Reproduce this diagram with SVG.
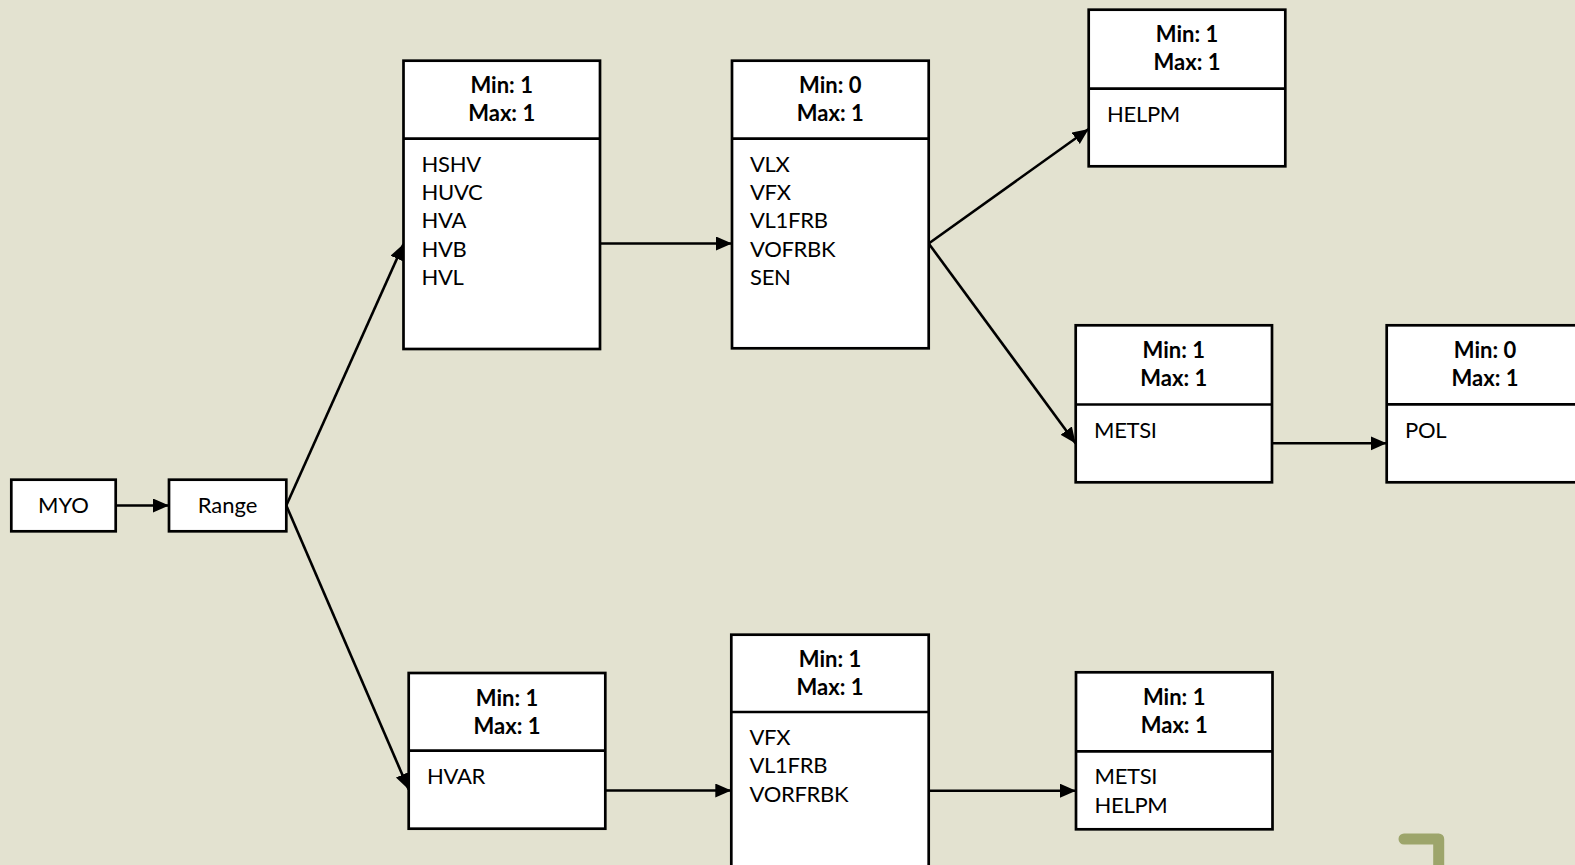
<svg xmlns="http://www.w3.org/2000/svg" width="1575" height="865" viewBox="0 0 1575 865">
<defs>
<style>
.box{fill:#ffffff;stroke:#000000;stroke-width:2.7}
.div{stroke:#000000;stroke-width:2.7}
.hd{font-family:Lato,"Noto Sans",sans-serif;font-size:22px;font-weight:bold;fill:#000000;text-anchor:middle}
.bd{font-family:Lato,"Noto Sans",sans-serif;font-size:22px;fill:#000000;letter-spacing:-0.3px}
.lb{font-family:Lato,"Noto Sans",sans-serif;font-size:22px;fill:#000000;text-anchor:middle}
.cn{fill:none;stroke:#000000;stroke-width:2.6;marker-end:url(#ah)}
</style>
<marker id="ah" markerUnits="userSpaceOnUse" markerWidth="17" markerHeight="15" refX="16" refY="7" orient="auto">
<path d="M0,0 L16,7 L0,14 z" fill="#000000"/>
</marker>
</defs>
<rect x="0" y="0" width="1575" height="865" fill="#e3e2d0"/>

<g id="connectors">
<line class="cn" x1="115.7" y1="505.5" x2="169" y2="505.5"/>
<line class="cn" x1="286.3" y1="505.5" x2="403.5" y2="244"/>
<line class="cn" x1="286.3" y1="505.5" x2="408.7" y2="789.5"/>
<line class="cn" x1="600" y1="243.5" x2="732" y2="243.5"/>
<line class="cn" x1="928.7" y1="243.5" x2="1088.7" y2="129"/>
<line class="cn" x1="928.7" y1="243.5" x2="1075.7" y2="443.5"/>
<line class="cn" x1="1272" y1="443.3" x2="1386.7" y2="443.3"/>
<line class="cn" x1="605.3" y1="790.5" x2="731.3" y2="790.5"/>
<line class="cn" x1="928.7" y1="790.7" x2="1076" y2="790.7"/>
</g>

<g id="node-myo">
<rect class="box" x="11.3" y="479.7" width="104.4" height="51.6"/>
<text class="lb" x="63.5" y="513.3">MYO</text>
</g>
<g id="node-range">
<rect class="box" x="169" y="479.7" width="117.3" height="51.6"/>
<text class="lb" x="227.6" y="513.3">Range</text>
</g>

<g id="node-a">
<rect class="box" x="403.5" y="60.7" width="196.5" height="288.3"/>
<line class="div" x1="403.5" y1="138.7" x2="600" y2="138.7"/>
<text class="hd" x="501.7" y="93.3">Min: 1</text>
<text class="hd" x="501.7" y="121.3">Max: 1</text>
<text class="bd" x="421.5" y="171.7">HSHV</text>
<text class="bd" x="421.5" y="200">HUVC</text>
<text class="bd" x="421.5" y="228.4">HVA</text>
<text class="bd" x="421.5" y="256.8">HVB</text>
<text class="bd" x="421.5" y="285.2">HVL</text>
</g>

<g id="node-b">
<rect class="box" x="732" y="60.7" width="196.7" height="287.6"/>
<line class="div" x1="732" y1="138.7" x2="928.7" y2="138.7"/>
<text class="hd" x="830.3" y="93.3">Min: 0</text>
<text class="hd" x="830.3" y="121.3">Max: 1</text>
<text class="bd" x="750" y="171.7">VLX</text>
<text class="bd" x="750" y="200">VFX</text>
<text class="bd" x="750" y="228.4">VL1FRB</text>
<text class="bd" x="750" y="256.8">VOFRBK</text>
<text class="bd" x="750" y="285.2">SEN</text>
</g>

<g id="node-c">
<rect class="box" x="1088.7" y="9.7" width="196.6" height="156.6"/>
<line class="div" x1="1088.7" y1="88.7" x2="1285.3" y2="88.7"/>
<text class="hd" x="1187" y="42.3">Min: 1</text>
<text class="hd" x="1187" y="70.3">Max: 1</text>
<text class="bd" x="1107" y="121.7">HELPM</text>
</g>

<g id="node-d">
<rect class="box" x="1075.7" y="325.3" width="196.3" height="157"/>
<line class="div" x1="1075.7" y1="404.5" x2="1272" y2="404.5"/>
<text class="hd" x="1173.8" y="357.9">Min: 1</text>
<text class="hd" x="1173.8" y="385.9">Max: 1</text>
<text class="bd" x="1094" y="437.5">METSI</text>
</g>

<g id="node-e">
<rect class="box" x="1386.7" y="325.3" width="196.6" height="157"/>
<line class="div" x1="1386.7" y1="404.3" x2="1583.3" y2="404.3"/>
<text class="hd" x="1485" y="357.9">Min: 0</text>
<text class="hd" x="1485" y="385.9">Max: 1</text>
<text class="bd" x="1405" y="437.5">POL</text>
</g>

<g id="node-f">
<rect class="box" x="408.7" y="673" width="196.6" height="155.7"/>
<line class="div" x1="408.7" y1="750.7" x2="605.3" y2="750.7"/>
<text class="hd" x="507" y="705.6">Min: 1</text>
<text class="hd" x="507" y="733.6">Max: 1</text>
<text class="bd" x="427" y="783.7">HVAR</text>
</g>

<g id="node-g">
<rect class="box" x="731.3" y="634.7" width="197.4" height="288"/>
<line class="div" x1="731.3" y1="712" x2="928.7" y2="712"/>
<text class="hd" x="830" y="667.3">Min: 1</text>
<text class="hd" x="830" y="695.3">Max: 1</text>
<text class="bd" x="749.5" y="745">VFX</text>
<text class="bd" x="749.5" y="773.4">VL1FRB</text>
<text class="bd" x="749.5" y="801.8">VORFRBK</text>
</g>

<g id="node-h">
<rect class="box" x="1076" y="672.3" width="196.5" height="157"/>
<line class="div" x1="1076" y1="751.3" x2="1272.5" y2="751.3"/>
<text class="hd" x="1174.2" y="705">Min: 1</text>
<text class="hd" x="1174.2" y="733">Max: 1</text>
<text class="bd" x="1094.5" y="784.3">METSI</text>
<text class="bd" x="1094.5" y="812.7">HELPM</text>
</g>

<path d="M1404 839 H1438.7 V880" fill="none" stroke="#9da56b" stroke-width="11" stroke-linecap="round" stroke-linejoin="round"/>
</svg>
